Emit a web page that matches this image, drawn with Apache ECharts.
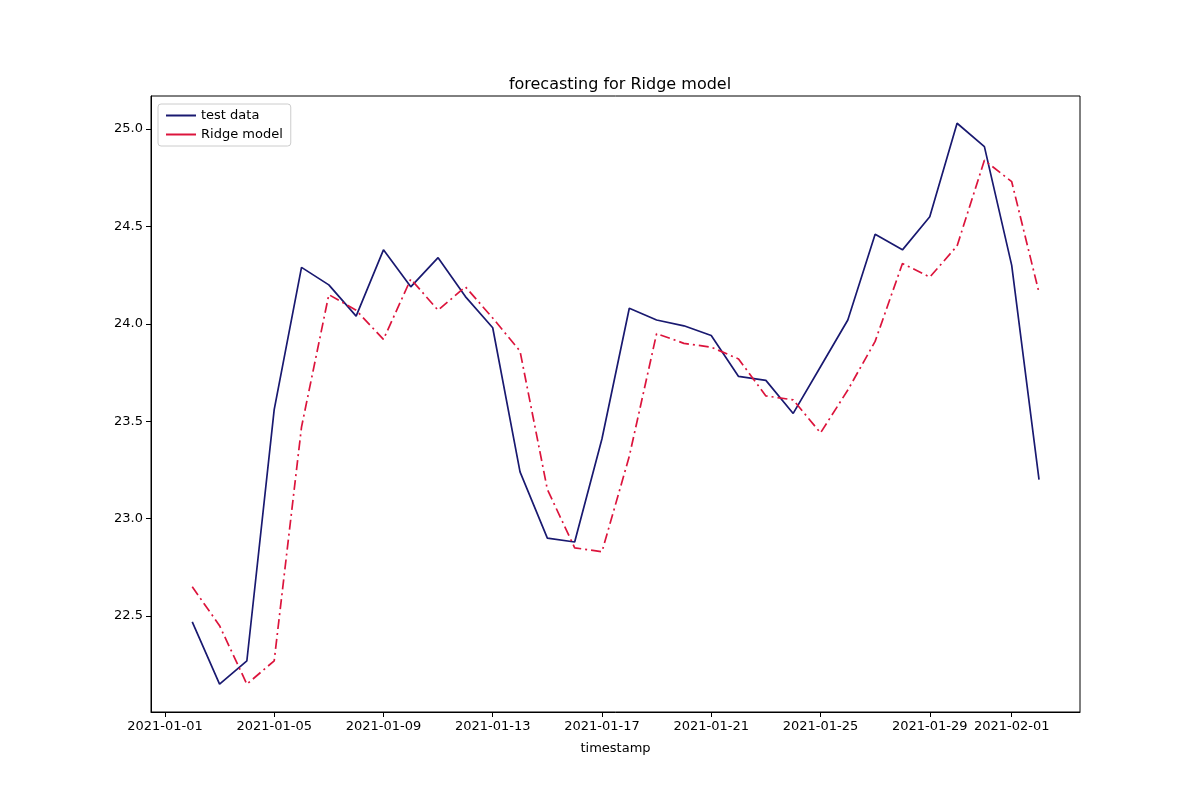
<!DOCTYPE html>
<html>
<head>
<meta charset="utf-8">
<script src="https://cdn.jsdelivr.net/npm/echarts@6/dist/echarts.min.js"></script>
<style>html,body{margin:0;padding:0;background:#fff}#chart{width:1200px;height:800px}</style>
</head>
<body>
<div id="chart"></div>
<script>
const dates = [
  "2021-01-02","2021-01-03","2021-01-04","2021-01-05","2021-01-06","2021-01-07","2021-01-08","2021-01-09",
  "2021-01-10","2021-01-11","2021-01-12","2021-01-13","2021-01-14","2021-01-15","2021-01-16","2021-01-17",
  "2021-01-18","2021-01-19","2021-01-20","2021-01-21","2021-01-22","2021-01-23","2021-01-24","2021-01-25",
  "2021-01-26","2021-01-27","2021-01-28","2021-01-29","2021-01-30","2021-01-31","2021-02-01","2021-02-02"
];
const testData = [22.47,22.15,22.27,23.56,24.29,24.20,24.04,24.38,24.19,24.34,24.14,23.98,23.24,22.90,22.88,23.41,
  24.08,24.02,23.99,23.94,23.73,23.71,23.54,23.78,24.02,24.46,24.38,24.55,25.03,24.91,24.30,23.20];
const ridgeData = [22.65,22.45,22.15,22.27,23.47,24.15,24.07,23.92,24.23,24.07,24.19,24.03,23.86,23.15,22.85,22.83,
  23.32,23.95,23.90,23.88,23.82,23.63,23.61,23.44,23.66,23.91,24.31,24.24,24.40,24.84,24.73,24.16];
const tickDates = ["2021-01-01","2021-01-05","2021-01-09","2021-01-13","2021-01-17","2021-01-21","2021-01-25","2021-01-29","2021-02-01"];
const yTicks = [22.5,23.0,23.5,24.0,24.5,25.0];

const DAY = 86400000;
const t0 = Date.parse("2021-01-01");
const dayOf = (s) => (Date.parse(s) - t0) / DAY;
const pad = (n) => String(n).padStart(2, "0");
const fmtDay = (d) => {
  const dt = new Date(t0 + Math.round(d) * DAY);
  return dt.getUTCFullYear() + "-" + pad(dt.getUTCMonth() + 1) + "-" + pad(dt.getUTCDate());
};

const chart = echarts.init(document.getElementById("chart"));
const font = "DejaVu Sans";
chart.setOption({
  animation: false,
  textStyle: { fontFamily: font },
  title: { text: "forecasting for Ridge model", left: 615, top: 72, textAlign: "center",
    textStyle: { fontFamily: font, fontSize: 16, fontWeight: "normal", color: "#000" } },
  legend: {
    left: 158, top: 104, orient: "vertical", itemGap: 6, itemWidth: 30, itemHeight: 2,
    borderColor: "#ccc", borderWidth: 1, borderRadius: 3, padding: [5, 8, 5, 8],
    textStyle: { fontFamily: font, fontSize: 13, color: "#000" },
    data: [{ name: "test data", icon: "rect" }, { name: "Ridge model", icon: "rect" }]
  },
  grid: { left: 151, right: 120, top: 96, bottom: 88, show: true, borderColor: "#000", borderWidth: 1 },
  xAxis: {
    type: "value", min: -0.51, max: 33.5, name: "timestamp", nameLocation: "middle", nameGap: 30,
    nameTextStyle: { fontFamily: font, fontSize: 13, color: "#000" },
    splitLine: { show: false },
    axisLine: { onZero: false, lineStyle: { color: "#000" } },
    axisTick: { customValues: tickDates.map(dayOf), length: 5, lineStyle: { color: "#000" } },
    axisLabel: { customValues: tickDates.map(dayOf), formatter: fmtDay, color: "#000", fontSize: 13, margin: 8 }
  },
  yAxis: {
    type: "value", min: 22.007, max: 25.17, splitLine: { show: false },
    axisLine: { show: true, onZero: false, lineStyle: { color: "#000" } },
    axisTick: { show: true, customValues: yTicks, length: 5, lineStyle: { color: "#000" } },
    axisLabel: { customValues: yTicks, formatter: (v) => v.toFixed(1), color: "#000", fontSize: 13, margin: 8 }
  },
  series: [
    { name: "test data", type: "line", symbol: "none", color: "#191970",
      lineStyle: { width: 1.7, color: "#191970" },
      data: dates.map((d, i) => [dayOf(d), testData[i]]) },
    { name: "Ridge model", type: "line", symbol: "none", color: "#DC143C",
      lineStyle: { width: 1.7, color: "#DC143C", type: [10, 4, 2, 4] },
      data: dates.map((d, i) => [dayOf(d), ridgeData[i]]) }
  ]
});
</script>
</body>
</html>
